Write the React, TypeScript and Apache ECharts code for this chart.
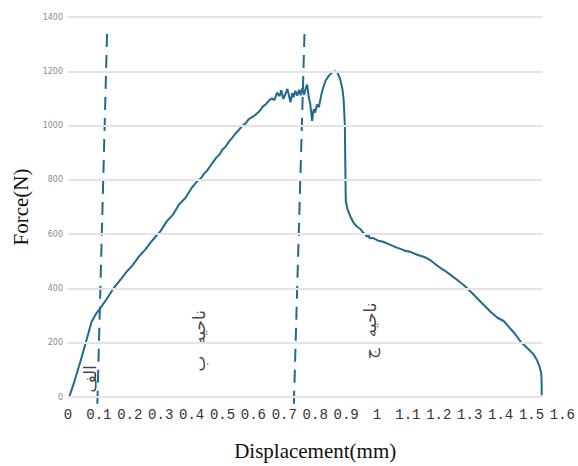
import { useEffect, useRef } from "react";
import * as echarts from "echarts";

// Force–displacement curve
const displacement = [
  0.004, 0.02, 0.04, 0.06, 0.076, 0.09, 0.103, 0.12, 0.146, 0.17, 0.19, 0.21, 0.23, 0.25, 0.27, 0.286,
  0.3, 0.32, 0.34, 0.36, 0.38, 0.4, 0.419, 0.43, 0.44, 0.45, 0.46, 0.47, 0.48, 0.49, 0.5, 0.51, 0.52,
  0.53, 0.54, 0.55, 0.563, 0.575, 0.585, 0.595, 0.605, 0.615, 0.625, 0.63, 0.64, 0.65, 0.66, 0.668,
  0.677, 0.685, 0.69, 0.697, 0.705, 0.71, 0.716, 0.72, 0.726, 0.73, 0.736, 0.742, 0.748, 0.753, 0.758,
  0.764, 0.77, 0.774, 0.779, 0.784, 0.79, 0.795, 0.8, 0.806, 0.812, 0.82, 0.826, 0.833, 0.845, 0.855,
  0.865, 0.872, 0.881, 0.888, 0.892, 0.896, 0.897, 0.898, 0.899, 0.905, 0.913, 0.925, 0.935, 0.946,
  0.955, 0.962, 0.968, 0.972, 0.976, 0.985, 0.994, 1.004, 1.02, 1.04, 1.06, 1.08, 1.091, 1.11, 1.13,
  1.155, 1.175, 1.198, 1.22, 1.24, 1.262, 1.285, 1.305, 1.325, 1.345, 1.369, 1.39, 1.41, 1.423, 1.445,
  1.466, 1.485, 1.5, 1.509, 1.518, 1.525, 1.53, 1.532, 1.533, 1.533,
];
const force = [
  0, 55, 130, 210, 276, 305, 325, 352, 398, 432, 462, 487, 518, 543, 573, 594,
  612, 648, 672, 710, 733, 770, 796, 806, 822, 834, 850, 866, 882, 893, 912, 922, 940,
  953, 968, 980, 998, 1008, 1024, 1030, 1038, 1048, 1060, 1070, 1078, 1092, 1100, 1094,
  1121, 1108, 1130, 1098, 1120, 1135, 1106, 1086, 1120, 1104, 1128, 1110, 1132, 1112, 1138,
  1114, 1140, 1151, 1105, 1080, 1017, 1060, 1048, 1078, 1068, 1115, 1140, 1164, 1185, 1196,
  1200, 1195, 1170, 1135, 1096, 1000, 900, 800, 722, 690, 667, 640, 628, 619,
  606, 600, 590, 598, 585, 586, 582, 576, 572, 562, 552, 544, 539, 534, 524,
  515, 502, 481, 465, 448, 429, 408, 386, 363, 340, 312, 292, 280, 263, 235,
  202, 182, 165, 153, 135, 116, 95, 79, 40, 6,
];

// Boundary (dashed) lines between regions
const boundaryA_x = [0.095, 0.127];
const boundaryA_y = [-25, 1365];
const boundaryB_x = [0.731, 0.766];
const boundaryB_y = [-25, 1365];

// Region labels
const regionNames = ["الف", "ناحیه  ب", "ناحیه  ج"];
const regionX = [0.071, 0.425, 0.976];
const regionY = [67, 207, 244];

// Axis ticks
const yTicks = [0, 200, 400, 600, 800, 1000, 1200, 1400];
const xTickLabels = [
  "0", "0.1", "0.2", "0.3", "0.4", "0.5", "0.6", "0.7", "0.8",
  "0.9", "1", "1.1", "1.2", "1.3", "1.4", "1.5", "1.6",
];
const gridEndX = 1.535;

const BLUE = "#216a8d";

export default function App() {
  const ref = useRef<HTMLDivElement>(null);
  useEffect(() => {
    if (!ref.current) return;
    const chart = echarts.init(ref.current, undefined, { renderer: "svg" });
    const curve = displacement.map((x, i) => [x, force[i]]);
    chart.setOption({
      animation: false,
      backgroundColor: "#ffffff",
      grid: { left: 68, right: 13, top: 17, bottom: 68, containLabel: false },
      xAxis: {
        type: "value",
        min: 0,
        max: 1.6,
        interval: 0.1,
        axisLine: { show: false },
        axisTick: { show: false },
        splitLine: { show: false },
        axisLabel: {
          margin: 11,
          fontSize: 14,
          fontFamily: "Liberation Mono",
          color: "#333",
          formatter: (v: number) => xTickLabels[Math.round(v * 10)] ?? "",
        },
        name: "Displacement(mm)",
        nameLocation: "middle",
        nameGap: 43,
        nameTextStyle: { fontFamily: "Liberation Serif", fontSize: 21, color: "#111" },
      },
      yAxis: {
        type: "value",
        min: 0,
        max: 1400,
        interval: 200,
        axisLine: { show: false },
        axisTick: { show: false },
        splitLine: { show: false },
        axisLabel: {
          margin: 5,
          fontSize: 8,
          fontFamily: "DejaVu Sans",
          color: "#8a8a8a",
          formatter: (v: number) => (yTicks.includes(v) ? String(v) : ""),
        },
        name: "Force(N)",
        nameLocation: "middle",
        nameGap: 36,
        nameRotate: 90,
        nameTextStyle: { fontFamily: "Liberation Serif", fontSize: 21, color: "#111" },
      },
      series: [
        {
          type: "line",
          name: "grid",
          data: [],
          silent: true,
          z: 0,
          markLine: {
            silent: true,
            symbol: ["none", "none"],
            label: { show: false },
            emphasis: { disabled: true },
            lineStyle: { color: "#e4e4e4", width: 2, type: "solid" },
            data: yTicks.map((v) => [{ coord: [0, v] }, { coord: [gridEndX, v] }]),
          },
        },
        {
          type: "line",
          name: "curve",
          data: curve,
          showSymbol: false,
          symbol: "none",
          silent: true,
          z: 3,
          lineStyle: { color: BLUE, width: 2 },
        },
        {
          type: "line",
          name: "boundaryA",
          data: boundaryA_x.map((x, i) => [x, boundaryA_y[i]]),
          symbol: "none",
          clip: false,
          silent: true,
          z: 2,
          lineStyle: { color: BLUE, width: 2, type: [13, 8] },
        },
        {
          type: "line",
          name: "boundaryB",
          data: boundaryB_x.map((x, i) => [x, boundaryB_y[i]]),
          symbol: "none",
          clip: false,
          silent: true,
          z: 2,
          lineStyle: { color: BLUE, width: 2, type: [13, 8] },
        },
        {
          type: "scatter",
          name: "regions",
          data: regionNames.map((n, i) => ({ value: [regionX[i], regionY[i]], name: n })),
          symbolSize: 0,
          silent: true,
          z: 4,
          label: {
            show: true,
            position: "inside",
            rotate: 90,
            formatter: (p: any) => p.name,
            fontFamily: "DejaVu Sans",
            fontSize: 17,
            color: "#111",
          },
        },
      ],
    });
    return () => chart.dispose();
  }, []);
  return (
    <div
      ref={ref}
      style={{ position: "fixed", left: 0, top: 0, width: 578, height: 466, background: "#fff" }}
    />
  );
}
